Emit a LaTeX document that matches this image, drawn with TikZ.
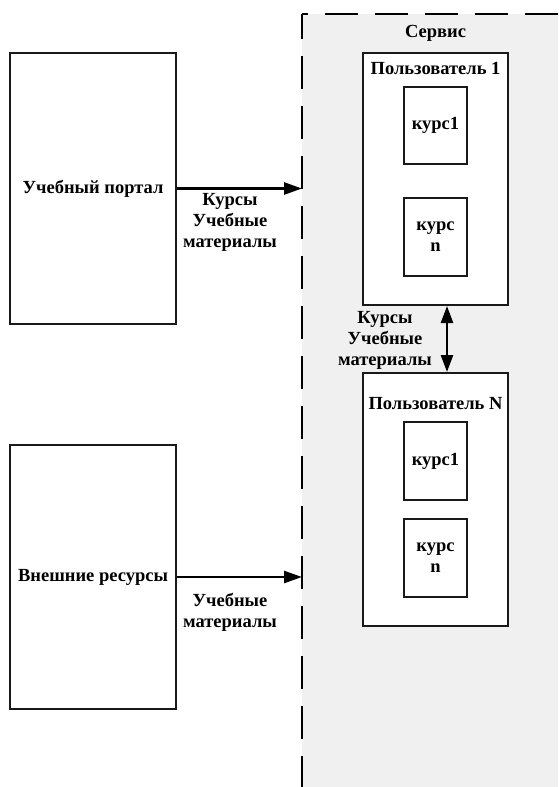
\documentclass[tikz,border=0pt]{standalone}
\usepackage{fontspec}
\setmainfont{Liberation Serif}
\usetikzlibrary{arrows.meta,calc}
\definecolor{zonegray}{HTML}{F0F0F0}
\begin{document}
\begin{tikzpicture}[x=1pt,y=-1pt,
  txt/.style={font=\fontsize{18.5}{21}\selectfont\bfseries, inner sep=0pt, align=center},
  box/.style={draw=black!90, line width=2pt, fill=white, inner sep=0pt, txt},
  flow/.style={line width=2.5pt, -{Triangle[length=18pt,width=12pt]}},
  bothflow/.style={line width=2.5pt, {Triangle[length=17pt,width=12pt]}-{Triangle[length=17pt,width=12pt]}},
  lbl/.style={txt}]
\useasboundingbox (0,0) rectangle (558,787);

% service zone with dashed border on top and left
\fill[zonegray] (302,14) rectangle (558,787);
\coordinate (zoneTL) at (302,14);
\coordinate (zoneTR) at (558,14);
\coordinate (zoneBL) at (302,787);
\draw[line width=2pt, dash pattern=on 33pt off 17pt] (zoneTR) -- (zoneTL);
\draw[line width=2pt, dash pattern=on 33pt off 17pt, dash phase=8pt] (zoneTL) -- (zoneBL);
\node[txt] (service) at (435.5,33) {Сервис};

% sources on the left
\node[box, minimum width=166pt, minimum height=271pt] (portal) at (93,188.5) {Учебный портал};
\node[box, minimum width=166pt, minimum height=264pt] (external) at (93,577) {Внешние ресурсы};

% users
\node[box, minimum width=145pt, minimum height=252pt] (user1) at (435.5,179) {};
\node[txt] (user1t) at (435.5,68) {Пользователь 1};
\node[box, minimum width=63pt, minimum height=77pt] (c11) at (435.5,125.5) {курс1};
\node[box, minimum width=63pt, minimum height=78pt] (c1n) at (435.5,237) {курс\\n};

\node[box, minimum width=145pt, minimum height=253pt] (userN) at (435.5,499.5) {};
\node[txt] (userNt) at (435.5,404) {Пользователь N};
\node[box, minimum width=63pt, minimum height=78pt] (cN1) at (435.5,461) {курс1};
\node[box, minimum width=63pt, minimum height=78pt] (cNn) at (435.5,558) {курс\\n};

% flows into the service
\coordinate (in1) at (portal.east -| zoneTL);
\coordinate (in2) at (external.east -| zoneTL);
\draw[flow] (portal.east) -- (in1);
\draw[flow] (external.east) -- (in2);
\node[lbl] (lab1) at (230,222) {Курсы\\Учебные\\материалы};
\node[lbl] (lab2) at (230,612) {Учебные\\материалы};

% exchange between users
\coordinate (u1s) at ($(user1.south)+(11.5,0)$);
\coordinate (uNn) at ($(userN.north)+(11.5,0)$);
\draw[bothflow] (u1s) -- (uNn);
\node[lbl] (lab3) at (385,340) {Курсы\\Учебные\\материалы};
\end{tikzpicture}
\end{document}
